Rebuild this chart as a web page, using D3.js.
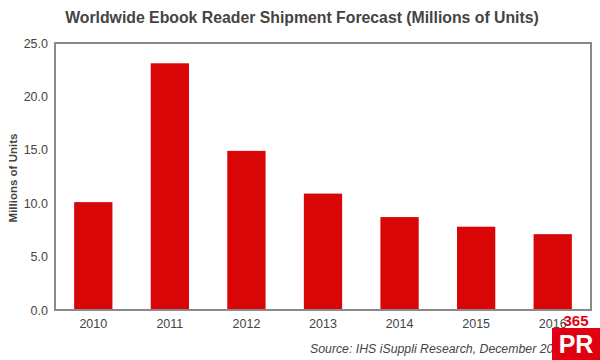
<!DOCTYPE html>
<html><head><meta charset="utf-8">
<script src="https://cdn.jsdelivr.net/npm/d3@7"></script>
<style>body{margin:0;background:#fff}svg{display:block}</style>
</head><body>
<svg id="c" width="600" height="360"></svg>
<script>
const years = ["2010","2011","2012","2013","2014","2015","2016"];
const shipments = [10.1, 23.1, 14.9, 10.9, 8.7, 7.8, 7.1];
const yTicks = [0, 5, 10, 15, 20, 25];

const svg = d3.select("#c");
const m = {l:55, t:43, r:591, b:310};
const x = d3.scaleBand().domain(years).range([m.l, m.r]).paddingInner(0.5).paddingOuter(0.25);
const y = d3.scaleLinear().domain([0,25]).range([m.b, m.t]);
const FF = "Liberation Sans, Arial, sans-serif";

svg.append("text").attr("x", 302).attr("y", 23).attr("text-anchor","middle")
  .attr("font-family",FF).attr("font-weight","bold")
  .attr("font-size",15.8).attr("fill","#444")
  .text("Worldwide Ebook Reader Shipment Forecast (Millions of Units)");

svg.append("g").selectAll("rect").data(shipments).join("rect")
  .attr("x",(d,i)=>x(years[i])).attr("width",x.bandwidth())
  .attr("y",d=>y(d)).attr("height",d=>y(0)-y(d)).attr("fill","#d80606");

svg.append("rect").attr("x",m.l).attr("y",m.t).attr("width",m.r-m.l).attr("height",m.b-m.t)
  .attr("fill","none").attr("stroke","#8a8a8a").attr("stroke-width",2);

const ya = svg.append("g").attr("transform",`translate(${m.l},0)`)
  .call(d3.axisLeft(y).tickValues(yTicks).tickFormat(d3.format(".1f")).tickSize(0).tickPadding(7));
ya.select(".domain").remove();
ya.selectAll("text").attr("font-family",FF).attr("font-size",12.5).attr("fill","#444");

const xa = svg.append("g").attr("transform",`translate(0,${m.b})`)
  .call(d3.axisBottom(x).tickSize(0).tickPadding(9));
xa.select(".domain").remove();
xa.selectAll("text").attr("font-family",FF).attr("font-size",12.5).attr("fill","#444");

svg.append("text").attr("transform","translate(17,178) rotate(-90)").attr("text-anchor","middle")
  .attr("font-family",FF).attr("font-weight","bold")
  .attr("font-size",11.5).attr("fill","#444").text("Millions of Units");

svg.append("text").attr("x",310).attr("y",353)
  .attr("font-family",FF).attr("font-style","italic")
  .attr("font-size",12.3).attr("fill","#444").text("Source: IHS iSuppli Research, December 2011");

// watermark logo
svg.append("rect").attr("x",552).attr("y",328).attr("width",48).attr("height",32).attr("fill","#e00010");
svg.append("text").attr("x",576).attr("y",326).attr("text-anchor","middle")
  .attr("font-family",FF).attr("font-weight","bold")
  .attr("font-size",15).attr("fill","#e00010").text("365");
svg.append("text").attr("x",576).attr("y",353).attr("text-anchor","middle")
  .attr("font-family",FF).attr("font-weight","bold")
  .attr("font-size",25).attr("fill","#fff").text("PR");
</script>
</body></html>
